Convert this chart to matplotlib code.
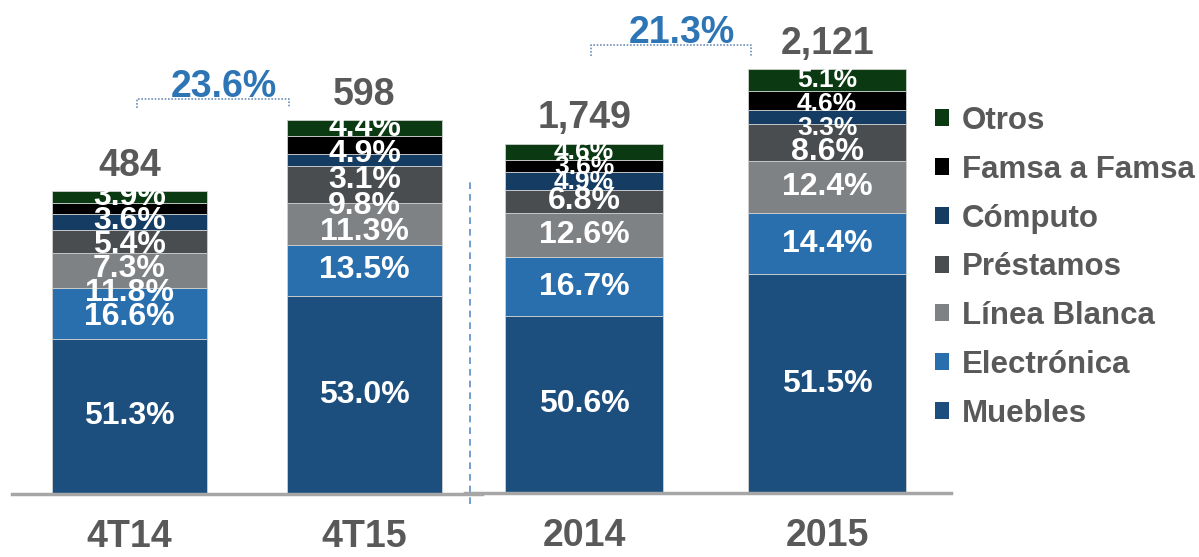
import matplotlib.pyplot as plt
import numpy as np
from matplotlib.patches import Patch

plt.rcParams["font.family"] = ["Liberation Sans", "DejaVu Sans"]
plt.rcParams["font.weight"] = "bold"

segments = ["Muebles", "Electrónica", "Línea Blanca", "Préstamos", "Cómputo", "Famsa a Famsa", "Otros"]
colors = ["#1D4F7E", "#2A6FAD", "#7F8285", "#4A4D50", "#153D63", "#000000", "#0B3A12"]

quarter_labels = ["4T14", "4T15"]
quarter_totals = [484, 598]
quarter_shares = [
    [51.3, 16.6, 11.8, 7.3, 5.4, 3.6, 3.9],
    [53.0, 13.5, 11.3, 9.8, 3.1, 4.9, 4.4],
]
quarter_growth = "23.6%"

year_labels = ["2014", "2015"]
year_totals = [1749, 2121]
year_shares = [
    [50.6, 16.7, 12.6, 6.8, 4.9, 3.6, 4.6],
    [51.5, 14.4, 12.4, 8.6, 3.3, 4.6, 5.1],
]
year_growth = "21.3%"

GREY_TEXT = "#595959"
BLUE_TEXT = "#2E75B6"
AXIS_GREY = "#A6A6A6"

W, H = 1199, 557
fig = plt.figure(figsize=(W / 100, H / 100), dpi=100)


def px_axes(x0, x1, y_base):
    return fig.add_axes([x0 / W, 1 - y_base / H, (x1 - x0) / W, y_base / H])


def draw_group(ax, labels, totals, shares, growth, bar_width, px_per_unit, y_base,
               label_gaps, small_size):
    x = np.arange(len(labels))
    ax.set_ylim(0, y_base / px_per_unit)
    for i, (total, row) in enumerate(zip(totals, shares)):
        heights = [total * s / 100.0 for s in row]
        bottoms = np.concatenate([[0], np.cumsum(heights)[:-1]])
        centers = bottoms + np.array(heights) / 2
        for j, h in enumerate(heights):
            ax.bar(x[i], h, bottom=bottoms[j], width=bar_width, color=colors[j],
                   edgecolor="#D0D0D0", linewidth=0.6)
        # push crowded labels downward from the top so they stay readable
        gap = label_gaps[i] / px_per_unit
        label_y = centers.copy()
        for j in range(len(row) - 2, 0, -1):
            label_y[j] = min(centers[j], label_y[j + 1] - gap)
        for j, share in enumerate(row):
            size = small_size if share < 6 else 23
            ax.text(x[i], label_y[j], f"{share:.1f}%", ha="center", va="center",
                    color="white", fontsize=size, fontweight="bold")
        ax.annotate(f"{total:,}", (x[i], total), xytext=(0, 5), textcoords="offset points",
                    ha="center", va="bottom", fontsize=27, fontweight="bold", color=GREY_TEXT)

    # growth bracket between the two bars
    top = max(totals) * 1.055
    tick = max(totals) * 0.025
    x_left = x[0] + 0.03
    x_right = x[1] - bar_width / 2 + 0.01
    ax.plot([x_left, x_left, x_right, x_right], [top - tick, top, top, top - tick],
            color="#6F8FB5", linestyle=(0, (1, 1)), linewidth=1.2, clip_on=False)
    ax.annotate(growth, ((x_left + x_right) / 2, top), xytext=(8, -4), textcoords="offset points",
                ha="center", va="bottom", fontsize=27, fontweight="bold", color=BLUE_TEXT)

    ax.set_xticks(x)
    ax.set_xticklabels(labels, fontsize=27, fontweight="bold", color=GREY_TEXT)
    ax.tick_params(axis="x", length=0, pad=18)
    ax.set_yticks([])
    for side in ("top", "left", "right"):
        ax.spines[side].set_visible(False)
    ax.spines["bottom"].set_color(AXIS_GREY)
    ax.spines["bottom"].set_linewidth(2.5)
    ax.patch.set_alpha(0)


ax_q = px_axes(12, 482, 494)
ax_q.set_xlim(-0.5, 1.5)
draw_group(ax_q, quarter_labels, quarter_totals, quarter_shares, quarter_growth,
           0.66, 303 / 484, 494, [24, 26], 23)

ax_y = px_axes(465, 951, 493)
ax_y.set_xlim(-0.49, 1.51)
draw_group(ax_y, year_labels, year_totals, year_shares, year_growth,
           0.65, 350 / 1749, 493, [15, 24], 19)

# dashed separator between quarterly and annual groups
ax_q.axvline(1.449, ymin=-0.02, ymax=0.636, color="#5B8DC9", linestyle=(0, (4, 3)),
             linewidth=1.2, clip_on=False)

handles = [Patch(facecolor=c, edgecolor="none") for c in colors][::-1]
leg = fig.legend(handles, segments[::-1], loc="upper left", bbox_to_anchor=(935 / W, 1 - 106 / H),
                 frameon=False, fontsize=22.5, handlelength=0.45, handleheight=0.45,
                 handletextpad=0.4, labelspacing=0.6, borderaxespad=0, borderpad=0)
for t in leg.get_texts():
    t.set_color(GREY_TEXT)
    t.set_fontweight("bold")

fig.savefig("out.png", dpi=100)
